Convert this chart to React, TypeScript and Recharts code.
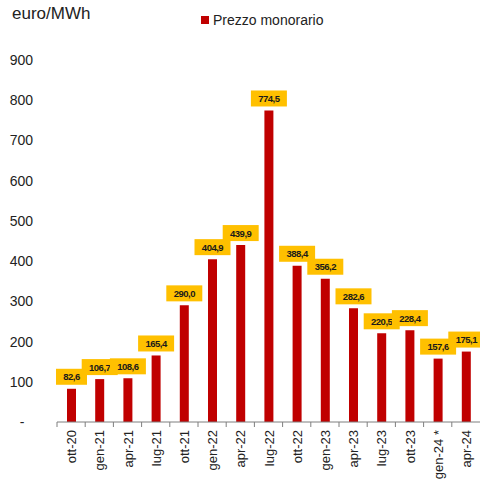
import React from 'react';
import { BarChart, Bar, XAxis, YAxis, LabelList } from 'recharts';

const categories = ['ott-20', 'gen-21', 'apr-21', 'lug-21', 'ott-21', 'gen-22', 'apr-22', 'lug-22', 'ott-22', 'gen-23', 'apr-23', 'lug-23', 'ott-23', 'gen-24 *', 'apr-24'];
const prezzoMonorario = [82.6, 106.7, 108.6, 165.4, 290.0, 404.9, 439.9, 774.5, 388.4, 356.2, 282.6, 220.5, 228.4, 157.6, 175.1];
const yTicks = [0, 100, 200, 300, 400, 500, 600, 700, 800, 900];

const data = categories.map((c, i) => ({ cat: c, value: prezzoMonorario[i] }));

const fmt = (v: number) => v.toFixed(1).replace('.', ',');

const FONT = 'Liberation Sans, Arial, sans-serif';

const YTick = (props: any) => {
  const { x, y, payload } = props;
  if (payload.value === 0) {
    return <text x={x - 27} y={y} dy={5} textAnchor="middle" fontSize={14} fill="#222" fontFamily={FONT}>-</text>;
  }
  return <text x={x - 16} y={y} dy={5} textAnchor="end" fontSize={14} fill="#222" fontFamily={FONT}>{payload.value}</text>;
};

const XTick = (props: any) => {
  const { x, y, payload } = props;
  const half = 423 / 15 / 2;
  return (
    <g>
      <line x1={x - half} x2={x - half} y1={y} y2={y + 5} stroke="#7f7f7f" strokeWidth={1} />
      <text x={0} y={0} transform={`translate(${x + 5},${y + 8}) rotate(-90)`} textAnchor="end" fontSize={13} fill="#222" fontFamily={FONT}>{payload.value}</text>
    </g>
  );
};

const DataLabel = (props: any) => {
  const { x, y, width, value } = props;
  const txt = fmt(value);
  const w = txt.length >= 5 ? 36 : 31;
  const h = 16;
  const cx = x + width / 2;
  return (
    <g>
      <rect x={cx - w / 2} y={y - 4 - h} width={w} height={h} fill="#FFC000" />
      <text x={cx} y={y - 4 - h / 2} dy={3.5} textAnchor="middle" fontSize={9.5} fontWeight="bold" letterSpacing={-0.5} fill="#1a1a1a" fontFamily={FONT}>{txt}</text>
    </g>
  );
};

export default function App() {
  return (
    <div style={{ position: 'absolute', left: 0, top: 0, width: 480, height: 482, background: '#fff' }}>
      <div style={{ position: 'absolute', left: 12, top: 4, fontFamily: FONT, fontSize: 17, color: '#222', lineHeight: '20px' }}>euro/MWh</div>
      <div style={{ position: 'absolute', left: 201, top: 11, display: 'flex', alignItems: 'center', fontFamily: FONT, fontSize: 14, color: '#222', lineHeight: '18px' }}>
        <span style={{ display: 'inline-block', width: 8, height: 8, background: '#C00000', marginRight: 4 }} />
        <span>Prezzo monorario</span>
      </div>
      <BarChart width={480} height={482} data={data} margin={{ top: 60, right: 0, left: 0, bottom: 0 }} barSize={9}>
        <YAxis domain={[0, 900]} ticks={yTicks} width={57} axisLine={false} tickLine={false} tick={<YTick />} interval={0} />
        <XAxis dataKey="cat" height={60} interval={0} axisLine={{ stroke: '#7f7f7f' }} tickLine={false} tick={<XTick />} tickMargin={0} tickSize={0} />
        <Bar dataKey="value" fill="#C00000" isAnimationActive={false}>
          <LabelList dataKey="value" content={<DataLabel />} />
        </Bar>
      </BarChart>
    </div>
  );
}
